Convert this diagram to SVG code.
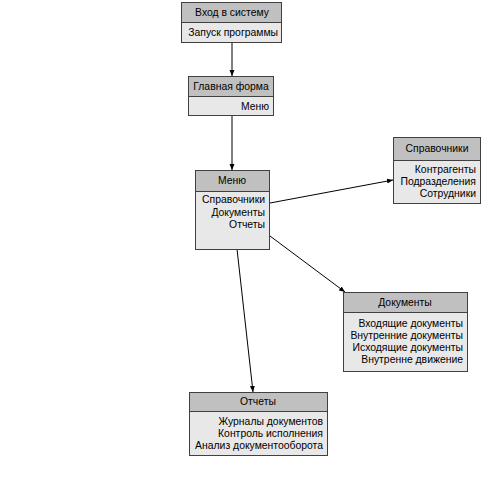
<svg xmlns="http://www.w3.org/2000/svg" width="501" height="489" viewBox="0 0 501 489">
<style>
.hd{fill:#c0c0c0;stroke:#404040;stroke-width:1}
.bd{fill:#e8e8e8;stroke:#404040;stroke-width:1}
text{font-family:"Liberation Sans",Arial,sans-serif;font-size:10.4px;fill:#000}
.c{text-anchor:middle}
.r{text-anchor:end}
.ln{stroke:#000;stroke-width:1;fill:none;marker-end:url(#ah)}
</style>
<defs>
<marker id="ah" markerWidth="6" markerHeight="6" refX="6" refY="3" orient="auto" markerUnits="userSpaceOnUse">
<path d="M0,0.5 L6,3 L0,5.5 Z" fill="#000"/>
</marker>
</defs>
<rect width="501" height="489" fill="#fff"/>
<g id="connectors">
<line class="ln" x1="232" y1="43" x2="232" y2="76"/>
<line class="ln" x1="232" y1="115" x2="232" y2="170"/>
<line class="ln" x1="270" y1="203" x2="393" y2="180"/>
<line class="ln" x1="270" y1="236" x2="345" y2="292"/>
<line class="ln" x1="237" y1="249" x2="253" y2="392"/>
</g>
<g id="vhod">
<rect class="bd" x="181.5" y="22.5" width="100" height="20"/>
<rect class="hd" x="181.5" y="2.5" width="100" height="20"/>
<text class="c" x="232" y="15.5">Вход в систему</text>
<text class="r" x="278" y="36">Запуск программы</text>
</g>
<g id="glavnaya">
<rect class="bd" x="188.5" y="96.5" width="85" height="19"/>
<rect class="hd" x="188.5" y="76.5" width="85" height="20"/>
<text class="c" x="231" y="89.5">Главная форма</text>
<text class="r" x="269" y="110">Меню</text>
</g>
<g id="menu">
<rect class="bd" x="195.5" y="191.5" width="74" height="58"/>
<rect class="hd" x="195.5" y="170.5" width="74" height="21"/>
<text class="c" x="232" y="183.5">Меню</text>
<text class="r" x="265" y="203">Справочники</text>
<text class="r" x="265" y="215.5">Документы</text>
<text class="r" x="265" y="228">Отчеты</text>
</g>
<g id="spravochniki">
<rect class="bd" x="393.5" y="160.5" width="87" height="43"/>
<rect class="hd" x="393.5" y="137.5" width="87" height="23"/>
<text class="c" x="437" y="151.5">Справочники</text>
<text class="r" x="476" y="173">Контрагенты</text>
<text class="r" x="476" y="185">Подразделения</text>
<text class="r" x="476" y="197">Сотрудники</text>
</g>
<g id="dokumenty">
<rect class="bd" x="343.5" y="312.5" width="124" height="59"/>
<rect class="hd" x="343.5" y="292.5" width="124" height="20"/>
<text class="c" x="405" y="305.5">Документы</text>
<text class="r" x="463" y="327">Входящие документы</text>
<text class="r" x="463" y="339">Внутренние документы</text>
<text class="r" x="463" y="351">Исходящие документы</text>
<text class="r" x="463" y="363">Внутренне движение</text>
</g>
<g id="otchety">
<rect class="bd" x="189.5" y="411.5" width="138" height="44"/>
<rect class="hd" x="189.5" y="392.5" width="138" height="19"/>
<text class="c" x="258" y="405">Отчеты</text>
<text class="r" x="323" y="425">Журналы документов</text>
<text class="r" x="323" y="437">Контроль исполнения</text>
<text class="r" x="323" y="449">Анализ документооборота</text>
</g>
</svg>
